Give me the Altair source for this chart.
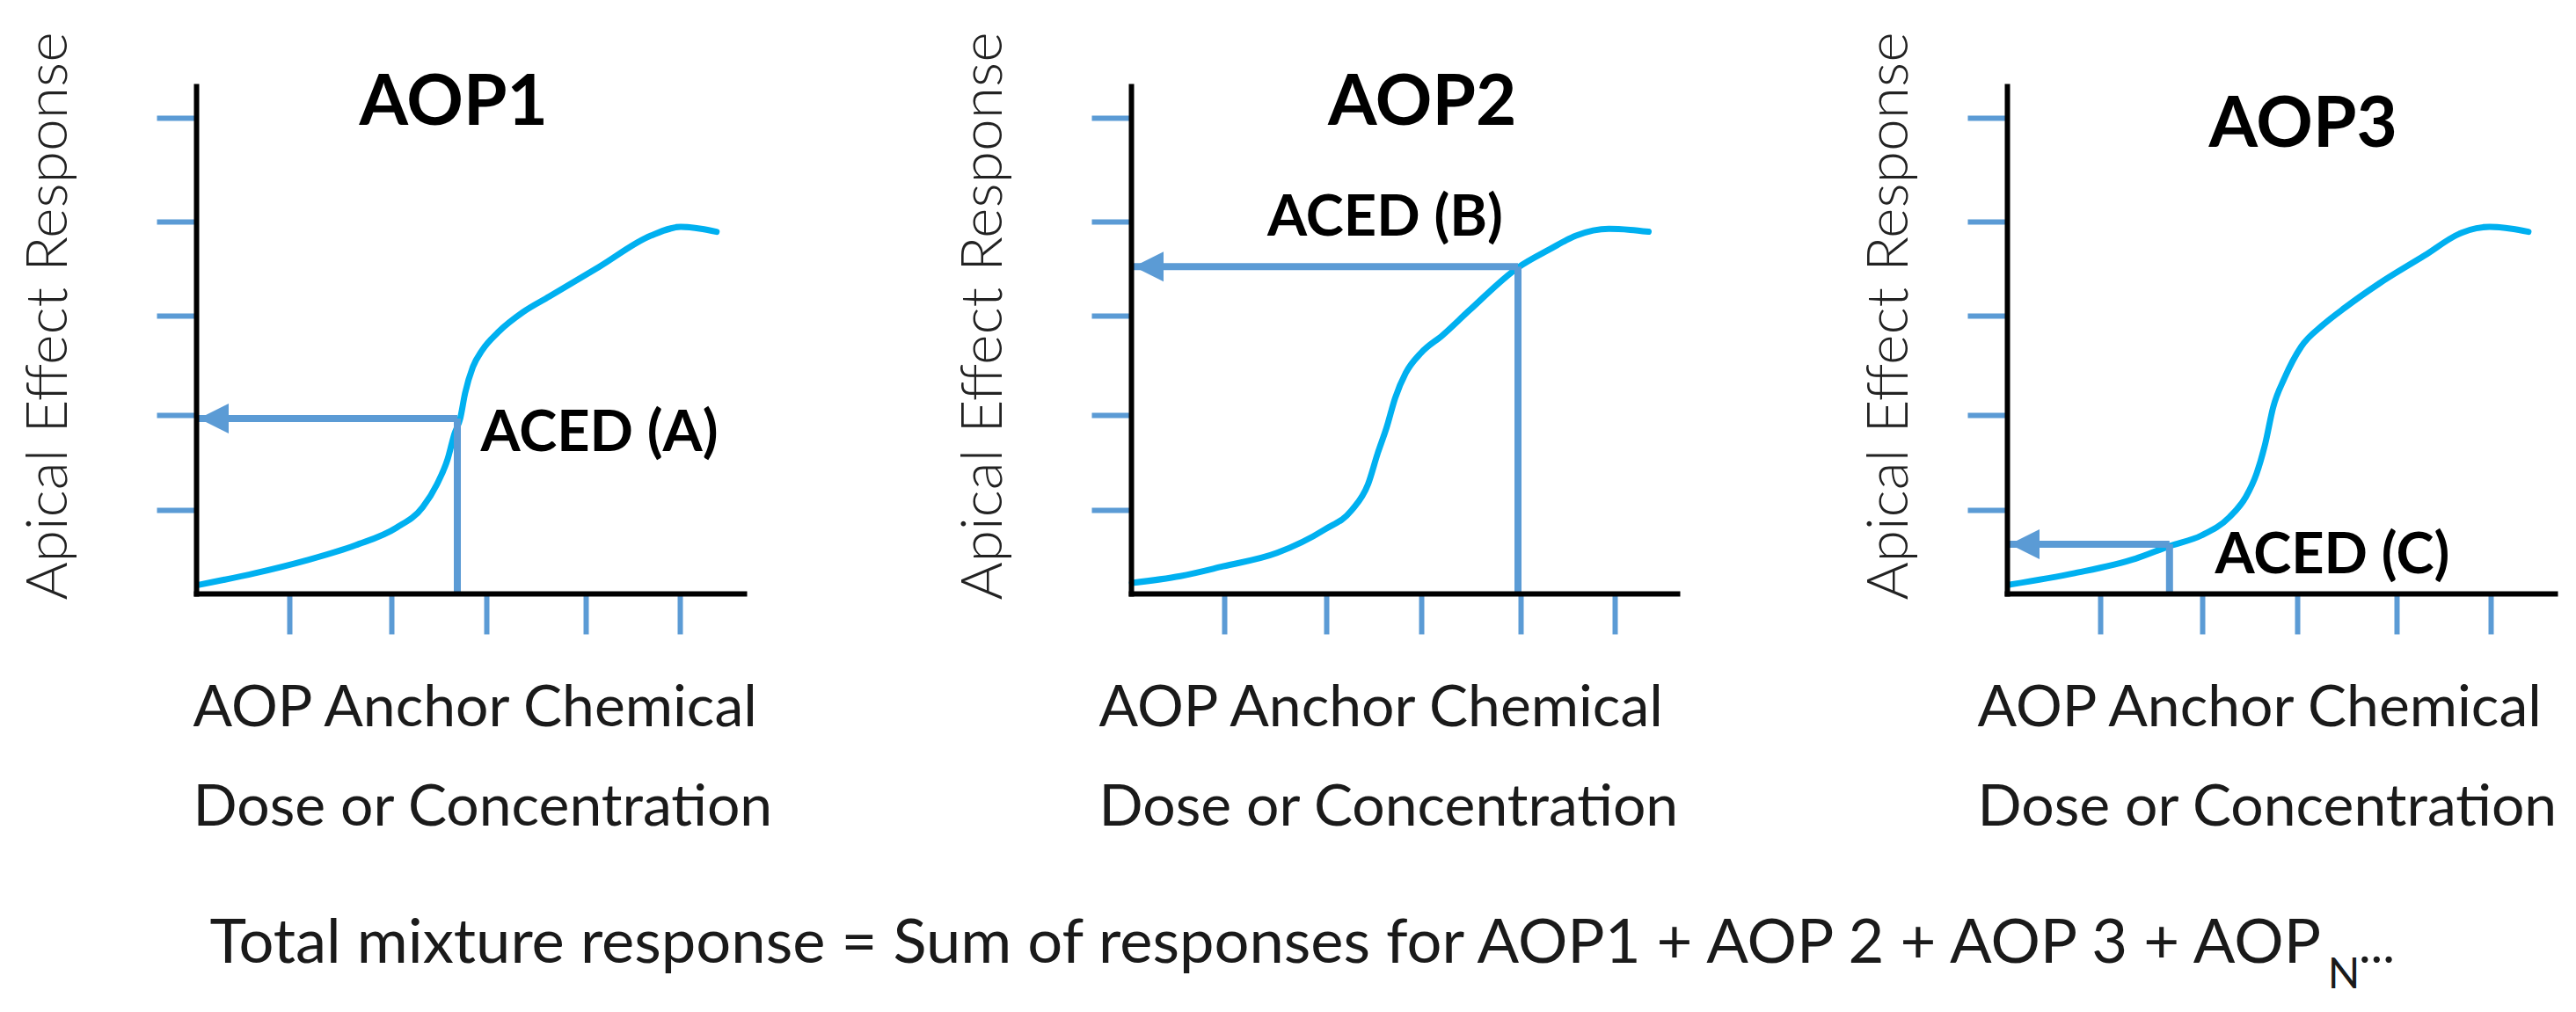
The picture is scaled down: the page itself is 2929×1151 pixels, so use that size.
import altair as alt
import pandas as pd

# ---------------- values ----------------
panel_names = ["AOP1", "AOP2", "AOP3"]
aced_labels = ["ACED (A)", "ACED (B)", "ACED (C)"]
y_title = "Apical Effect Response"
x_title = ["AOP Anchor Chemical", "Dose or Concentration"]
formula_main = "Total mixture response = Sum of responses for AOP1 + AOP 2 + AOP 3 + AOP"
formula_sub = "N"
formula_tail = "..."

curve1_x = [0.03, 0.61, 1.13, 1.65, 2.07, 2.34, 2.49, 2.60, 2.67, 2.73, 2.78, 2.86, 2.96, 3.12, 3.38, 3.65, 4.17, 4.70, 5.01, 5.22, 5.38]
curve1_y = [0.09, 0.21, 0.34, 0.50, 0.68, 0.89, 1.13, 1.39, 1.65, 1.81, 2.07, 2.34, 2.52, 2.70, 2.91, 3.07, 3.38, 3.70, 3.79, 3.77, 3.74]
curve2_x = [0.01, 0.51, 0.95, 1.51, 2.00, 2.28, 2.45, 2.55, 2.64, 2.73, 2.84, 3.00, 3.22, 3.50, 4.00, 4.33, 4.60, 4.94, 5.16, 5.35]
curve2_y = [0.11, 0.18, 0.28, 0.42, 0.66, 0.86, 1.13, 1.45, 1.71, 2.02, 2.28, 2.49, 2.67, 2.93, 3.37, 3.56, 3.70, 3.77, 3.76, 3.74]
curve3_x = [0.02, 0.70, 1.33, 1.68, 2.01, 2.30, 2.47, 2.58, 2.67, 2.75, 2.87, 3.04, 3.27, 3.50, 3.84, 4.31, 4.70, 4.99, 5.22, 5.39]
curve3_y = [0.09, 0.21, 0.36, 0.49, 0.60, 0.79, 1.00, 1.24, 1.55, 1.92, 2.23, 2.55, 2.78, 2.96, 3.20, 3.49, 3.73, 3.79, 3.77, 3.74]
curves_x = [curve1_x, curve2_x, curve3_x]
curves_y = [curve1_y, curve2_y, curve3_y]

aced_x = [2.70, 4.00, 1.68]      # anchor-chemical dose of each ACED
aced_y = [1.81, 3.38, 0.51]      # response read at that dose

x_tick_values = [0.96, 2.02, 3.00, 4.03, 5.00]
y_tick_values = [0.86, 1.85, 2.87, 3.85, 4.92]

# ---------------- layout / style ----------------
UNIT = 110.0                      # px per data unit
plot_w = [623, 621, 623]
plot_h = 577
gaps = [440, 375]
title_pos = [(2.66, 4.85), (3.01, 4.85), (3.06, 4.62)]
label_pos = [(2.94, 1.47), (1.41, 3.70), (2.15, 0.21)]
ytitle_x = [-148, -148, -114]
xtitle_x = [-4, -37, -34]
formula_pos = (12.30, -3.818)
sub_pos = (12.37, -4.08)
tail_pos = (12.69, -3.818)

FONT = "Lato"
CURVE = "#00b0f0"
BLUE = "#5b9bd5"
TXT = "#1a1a1a"
HEAD = 34
ARROW = "M -1 0 L 1 -1 L 1 1 Z"
NOVIEW = alt.ViewBackground(stroke="transparent", strokeWidth=0)


def make_panel(i):
    xs = alt.Scale(domain=[0, plot_w[i] / UNIT], nice=False, zero=False)
    ys = alt.Scale(domain=[0, plot_h / UNIT], nice=False, zero=False)
    xaxis = alt.Axis(
        values=x_tick_values, labels=False, grid=False,
        domainColor="black", domainWidth=6, domainCap="square",
        tickColor=BLUE, tickWidth=6, tickSize=46,
        title=x_title, titleFont=FONT, titleFontSize=66, titleFontWeight="normal",
        titleColor=TXT, titleAlign="left", titleX=xtitle_x[i], titleY=150,
        titleBaseline="alphabetic", titleLineHeight=113, zindex=1,
    )
    yaxis = alt.Axis(
        values=y_tick_values, labels=False, grid=False,
        domainColor="black", domainWidth=6, domainCap="square",
        tickColor=BLUE, tickWidth=6, tickSize=45,
        title=y_title, titleFont=FONT, titleFontSize=66, titleFontWeight=300,
        titleColor="#222222", titleAngle=270, titleAlign="center",
        titleX=ytitle_x[i], titleY=261, titleBaseline="alphabetic", zindex=1,
    )
    X = lambda f="x": alt.X(f"{f}:Q", scale=xs, axis=xaxis)
    Y = lambda f="y": alt.Y(f"{f}:Q", scale=ys, axis=yaxis)

    cdf = pd.DataFrame({"x": curves_x[i], "y": curves_y[i]})
    curve = alt.Chart(cdf).mark_line(
        color=CURVE, strokeWidth=7, interpolate="monotone", strokeCap="round"
    ).encode(x=X(), y=Y())

    hdf = pd.DataFrame({"x": [0.0], "x2": [aced_x[i]], "y": [aced_y[i]]})
    hline = alt.Chart(hdf).mark_rule(color=BLUE, strokeWidth=8).encode(
        x=X(), x2="x2:Q", y=Y())
    vdf = pd.DataFrame({"x": [aced_x[i]], "y": [0.0], "y2": [aced_y[i]]})
    vline = alt.Chart(vdf).mark_rule(color=BLUE, strokeWidth=8).encode(
        x=X(), y=Y(), y2="y2:Q")
    adf = pd.DataFrame({"x": [(3 + HEAD / 2) / UNIT], "y": [aced_y[i]]})
    head = alt.Chart(adf).mark_point(
        shape=ARROW, filled=True, size=HEAD * HEAD, color=BLUE, opacity=1, strokeWidth=0
    ).encode(x=X(), y=Y())

    tdf = pd.DataFrame({"x": [title_pos[i][0]], "y": [title_pos[i][1]], "t": [panel_names[i]]})
    title = alt.Chart(tdf).mark_text(
        font=FONT, fontSize=80, fontWeight="bold", color="black",
        align="center", baseline="alphabetic"
    ).encode(x=X(), y=Y(), text="t:N")

    ldf = pd.DataFrame({"x": [label_pos[i][0]], "y": [label_pos[i][1]], "t": [aced_labels[i]]})
    label = alt.Chart(ldf).mark_text(
        font=FONT, fontSize=65, fontWeight="bold", color="black",
        align="left", baseline="alphabetic"
    ).encode(x=X(), y=Y(), text="t:N")

    layers = [curve, hline, vline, head, title, label]

    if i == 1:
        fdf = pd.DataFrame({"x": [formula_pos[0]], "y": [formula_pos[1]], "t": [formula_main]})
        f1 = alt.Chart(fdf).mark_text(
            font=FONT, fontSize=70.5, color=TXT, align="right", baseline="alphabetic"
        ).encode(x=X(), y=Y(), text="t:N")
        sdf = pd.DataFrame({"x": [sub_pos[0]], "y": [sub_pos[1]], "t": [formula_sub]})
        f2 = alt.Chart(sdf).mark_text(
            font=FONT, fontSize=48, color=TXT, align="left", baseline="alphabetic"
        ).encode(x=X(), y=Y(), text="t:N")
        edf = pd.DataFrame({"x": [tail_pos[0]], "y": [tail_pos[1]], "t": [formula_tail]})
        f3 = alt.Chart(edf).mark_text(
            font=FONT, fontSize=58, color=TXT, align="left", baseline="alphabetic"
        ).encode(x=X(), y=Y(), text="t:N")
        layers += [f1, f2, f3]

    return alt.layer(*layers).properties(width=plot_w[i], height=plot_h, view=NOVIEW)


def spacer(w):
    return alt.Chart(pd.DataFrame({"x": [0], "y": [0]})).mark_point(opacity=0).encode(
        x=alt.X("x:Q", axis=None), y=alt.Y("y:Q", axis=None)
    ).properties(width=w, height=plot_h, view=NOVIEW)


chart = alt.hconcat(
    make_panel(0), spacer(gaps[0]), make_panel(1), spacer(gaps[1]), make_panel(2),
    spacing=0, bounds="flush",
).properties(
    padding={"left": 13, "top": 27, "right": 5, "bottom": 5}
).configure_view(strokeWidth=0, stroke="transparent").configure(background="white")

chart.save("out.html", embed_options={"renderer": "svg", "actions": False})
